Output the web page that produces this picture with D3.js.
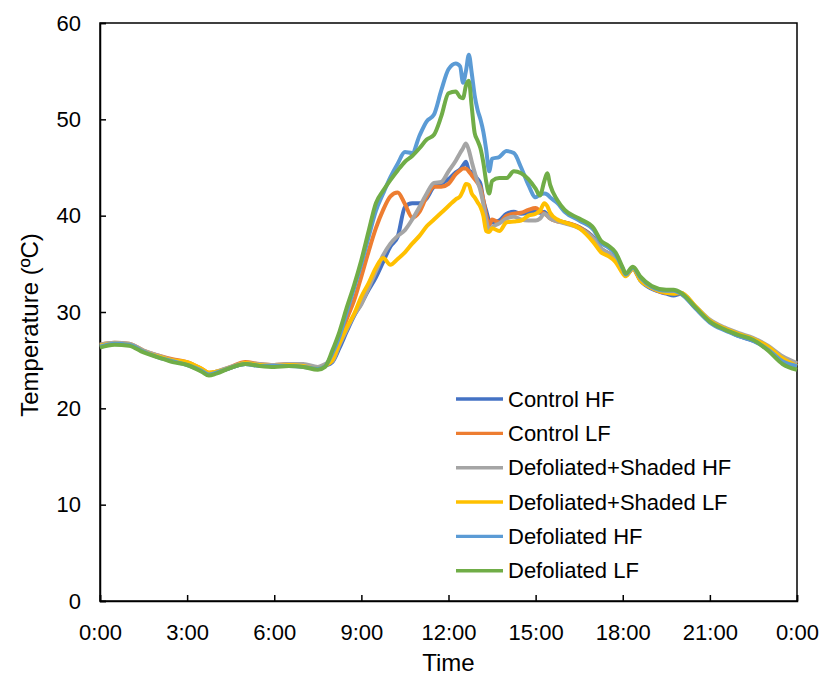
<!DOCTYPE html>
<html>
<head>
<meta charset="utf-8">
<title>Temperature</title>
<style>
body { margin: 0; background: #fff; }
svg { display: block; font-family: 'Liberation Sans', Arial, sans-serif; }
.tick text { fill: #000; }
</style>
</head>
<body>
<svg></svg>
<script src="https://d3js.org/d3.v7.min.js"></script>
<script>
// hours of the day (shared by every series)
const hours = [0, 0.5, 1, 1.5, 2, 2.5, 3, 3.5, 3.75, 4, 4.5, 5, 5.5, 6, 6.5, 7, 7.5, 7.75,
  8, 8.25, 8.5, 8.75, 9, 9.25, 9.5, 9.75, 10, 10.25, 10.5, 10.75, 11, 11.25, 11.5, 11.75, 12, 12.25,
  12.4, 12.5, 12.6, 12.7, 12.8, 12.9, 13, 13.1, 13.2, 13.3, 13.4, 13.5,
  13.75, 14, 14.25, 14.5, 14.75, 15, 15.15, 15.3, 15.4, 15.5, 15.75, 16,
  16.5, 17, 17.25, 17.5, 17.75, 18, 18.1, 18.35, 18.6, 19, 19.5, 19.75, 20,
  20.5, 21, 21.5, 22, 22.5, 23, 23.5, 24];

const controlHF = [26.5, 26.7, 26.6, 25.9, 25.4, 24.9, 24.6, 23.9, 23.5, 23.7, 24.2, 24.6, 24.5, 24.4, 24.5, 24.4, 24.1, 24.4,
  24.8, 26.3, 28.0, 29.6, 30.9, 32.3, 33.6, 35.2, 36.8, 37.8, 40.9, 41.3, 41.3, 41.8, 43.0, 43.3, 43.8, 44.5,
  44.8, 45.2, 45.6, 44.7, 44.5, 44.2, 43.8, 43.3, 41.6, 40.5, 39.5, 39.3,
  39.5, 40.2, 40.4, 40.2, 40.3, 40.5, 40.3, 40.4, 40.1, 39.8, 39.5, 39.3,
  38.8, 37.7, 36.6, 36.1, 35.5, 34.2, 33.8, 34.5, 33.3, 32.4, 31.9, 31.7, 31.9,
  30.4, 29.0, 28.2, 27.5, 27.0, 26.3, 25.2, 24.6];

const controlLF = [26.6, 26.8, 26.7, 26.0, 25.5, 25.1, 24.8, 24.1, 23.7, 23.8, 24.3, 24.8, 24.6, 24.5, 24.6, 24.5, 24.2, 24.5,
  25.3, 27.2, 29.3, 31.2, 33.7, 36.3, 38.7, 40.6, 42.0, 42.4, 41.2, 39.8, 40.4, 42.0, 43.0, 43.0, 43.3, 44.3,
  44.7, 44.9, 44.9, 44.6, 44.2, 43.8, 43.4, 42.9, 41.6, 40.0, 39.0, 39.6,
  39.3, 40.0, 40.2, 40.3, 40.6, 40.8, 40.5, 40.2, 40.0, 39.7, 39.4, 39.3,
  38.8, 37.6, 36.5, 36.1, 35.6, 34.2, 33.8, 34.5, 33.4, 32.5, 32.0, 32.0, 31.9,
  30.5, 29.0, 28.3, 27.6, 27.2, 26.4, 25.3, 24.6];

const shadedHF = [26.6, 26.8, 26.7, 26.0, 25.5, 25.0, 24.7, 24.0, 23.6, 23.8, 24.3, 24.7, 24.6, 24.5, 24.6, 24.6, 24.3, 24.6,
  24.9, 26.6, 28.2, 29.7, 30.8, 32.5, 34.2, 35.9, 37.1, 37.9, 38.5, 39.6, 40.9, 42.3, 43.4, 43.5, 44.6, 45.7,
  46.5, 47.0, 47.5, 46.8, 45.6, 44.5, 43.5, 42.6, 41.2, 39.5, 38.5, 38.8,
  39.2, 39.7, 39.9, 39.6, 39.5, 39.5, 39.7, 40.2, 40.0, 39.7, 39.4, 39.2,
  38.7, 37.6, 36.6, 36.1, 35.6, 34.3, 33.9, 34.6, 33.4, 32.5, 32.1, 32.0, 32.0,
  30.6, 29.2, 28.4, 27.8, 27.3, 26.5, 25.4, 24.7];

const shadedLF = [26.5, 26.7, 26.6, 25.9, 25.4, 25.0, 24.8, 24.1, 23.7, 23.8, 24.2, 24.7, 24.5, 24.4, 24.5, 24.4, 24.1, 24.4,
  25.0, 26.8, 28.4, 29.8, 31.6, 33.0, 34.6, 35.6, 34.9, 35.5, 36.2, 37.1, 37.9, 38.9, 39.6, 40.3, 41.0, 41.7,
  42.0, 42.6, 43.3, 43.2, 42.3, 41.9, 41.4, 40.9, 40.0, 38.4, 38.3, 38.7,
  38.4, 39.3, 39.4, 39.5, 40.0, 40.2, 40.5, 41.3, 41.0, 40.3, 39.6, 39.3,
  38.7, 37.2, 36.2, 35.8, 35.2, 34.0, 33.7, 34.5, 33.3, 32.5, 32.0, 31.9, 32.0,
  30.6, 29.1, 28.3, 27.7, 27.2, 26.4, 25.2, 24.4];

const defolHF = [26.4, 26.7, 26.6, 25.9, 25.3, 24.9, 24.5, 23.9, 23.5, 23.7, 24.2, 24.6, 24.4, 24.4, 24.4, 24.3, 24.1, 24.4,
  25.7, 27.5, 30.0, 32.5, 35.0, 37.8, 40.5, 42.3, 44.0, 45.4, 46.6, 46.5, 48.3, 49.8, 50.5, 53.0, 55.2, 55.8,
  55.5, 53.8, 55.0, 56.7, 54.8, 52.5, 51.0, 50.0, 48.7, 46.8, 44.6, 45.9,
  46.1, 46.7, 46.5, 45.0, 43.2, 41.9, 42.2, 42.3, 42.2, 41.9, 41.3, 40.4,
  39.5, 38.5, 37.2, 36.7, 36.0, 34.5, 33.9, 34.6, 33.6, 32.6, 32.2, 32.2, 31.9,
  30.4, 28.9, 28.1, 27.5, 27.0, 26.1, 24.9, 24.4];

const defolLF = [26.3, 26.6, 26.5, 25.8, 25.3, 24.8, 24.5, 23.8, 23.4, 23.6, 24.2, 24.6, 24.4, 24.3, 24.4, 24.3, 24.0, 24.3,
  26.0, 28.0, 30.5, 32.8, 35.4, 38.4, 41.3, 42.6, 43.7, 44.7, 45.6, 46.2, 47.0, 47.9, 48.4, 50.3, 52.7, 52.9,
  52.3, 52.2, 53.5, 54.0, 51.3, 48.6, 47.8, 47.0, 45.5, 43.5, 42.3, 43.6,
  43.9, 43.9, 44.6, 44.4, 43.8, 42.8, 42.1, 43.6, 44.4, 43.2, 41.6, 40.6,
  39.7, 38.7, 37.4, 36.9, 36.2, 34.6, 34.0, 34.7, 33.7, 32.7, 32.3, 32.3, 32.0,
  30.5, 29.0, 28.2, 27.6, 27.1, 26.0, 24.6, 24.0];

const names = ['Control HF', 'Control LF', 'Defoliated+Shaded HF', 'Defoliated+Shaded LF', 'Defoliated HF', 'Defoliated LF'];
const colors = ['#4472C4', '#ED7D31', '#A5A5A5', '#FFC000', '#5B9BD5', '#70AD47'];
const values = [controlHF, controlLF, shadedHF, shadedLF, defolHF, defolLF];

const xTicks = [0, 3, 6, 9, 12, 15, 18, 21, 24];
const xTickLabels = ['0:00', '3:00', '6:00', '9:00', '12:00', '15:00', '18:00', '21:00', '0:00'];
const yTicks = [0, 10, 20, 30, 40, 50, 60];

const W = 820, H = 675;
const margin = { top: 23, right: 23, bottom: 74, left: 100 };

const svg = d3.select('svg').attr('width', W).attr('height', H);

const x = d3.scaleLinear([0, 24], [margin.left, W - margin.right]);
const y = d3.scaleLinear([0, 60], [H - margin.bottom, margin.top]);

// plot frame
svg.append('rect')
   .attr('x', x(0)).attr('y', y(60))
   .attr('width', x(24) - x(0)).attr('height', y(0) - y(60))
   .attr('fill', 'none').attr('stroke', '#000').attr('stroke-width', 1.5);

const gx = svg.append('g')
   .attr('transform', `translate(0, ${y(0)})`)
   .call(d3.axisBottom(x).tickValues(xTicks).tickFormat((d, i) => xTickLabels[i])
          .tickSize(-6).tickPadding(23));

const gy = svg.append('g')
   .attr('transform', `translate(${x(0)}, 0)`)
   .call(d3.axisLeft(y).tickValues(yTicks).tickSize(-6).tickPadding(19));

[gx, gy].forEach(g => {
  g.select('.domain').attr('stroke', '#000').attr('stroke-width', 1.5);
  g.selectAll('.tick line').attr('stroke', '#000').attr('stroke-width', 1.5);
  g.selectAll('.tick text').style('font-size', '22px').style('font-family', "'Liberation Sans', Arial, sans-serif");
});

// series
const line = d3.line().x(d => x(d[0])).y(d => y(d[1])).curve(d3.curveMonotoneX);

values.forEach((v, i) => {
  svg.append('path')
     .attr('fill', 'none')
     .attr('stroke', colors[i])
     .attr('stroke-width', 4)
     .attr('stroke-linejoin', 'round')
     .attr('d', line(hours.map((h, j) => [h, v[j]])));
});

// axis titles
svg.append('text')
   .text('Time')
   .attr('x', (x(0) + x(24)) / 2).attr('y', 671)
   .attr('text-anchor', 'middle')
   .style('font-size', '24px');

svg.append('text')
   .text('Temperature (ºC)')
   .attr('transform', 'translate(30, 325) rotate(-90)')
   .attr('text-anchor', 'middle')
   .attr('dy', '0.35em')
   .style('font-size', '24px');

// legend
const lg = svg.append('g');
names.forEach((n, i) => {
  const ly = 399 + i * 34.35;
  lg.append('line')
    .attr('x1', 456).attr('x2', 503).attr('y1', ly).attr('y2', ly)
    .attr('stroke', colors[i]).attr('stroke-width', 3.4);
  lg.append('text')
    .text(n)
    .attr('x', 508).attr('y', ly).attr('dy', '0.35em')
    .style('font-size', '22px');
});
</script>
</body>
</html>
